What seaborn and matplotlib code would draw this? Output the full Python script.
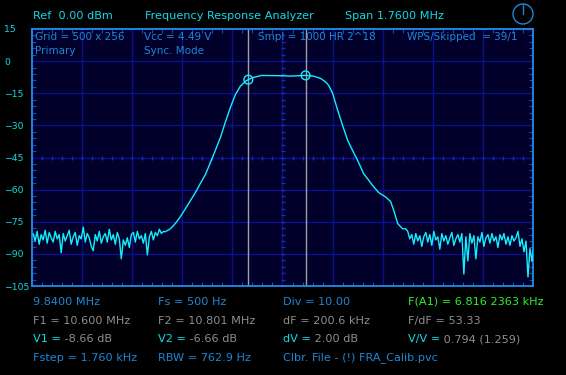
import numpy as np
import pandas as pd
import seaborn as sns
import matplotlib.pyplot as plt
from matplotlib.patches import Ellipse
from matplotlib.ticker import MultipleLocator, FixedLocator

# sweep setup
f_start = 9.84
f_span = 1.76
f1, v1 = 10.600, -8.66
f2, v2 = 10.801, -6.66
y_ticks = [-105, -90, -75, -60, -45, -30, -15, 0, 15]

# filter response (MHz, dB)
shape_freq = [10.308, 10.326, 10.343, 10.361, 10.379, 10.396, 10.414, 10.431, 10.449,
              10.467, 10.484, 10.502, 10.519, 10.537, 10.555, 10.572, 10.590, 10.600,
              10.614, 10.628, 10.646, 10.709, 10.748, 10.801, 10.829, 10.854, 10.871,
              10.882, 10.896, 10.914, 10.931, 10.949, 10.966, 10.984, 11.005, 11.037,
              11.058, 11.083, 11.100, 11.111, 11.125, 11.142, 11.153]
shape_level = [-79.7, -78.3, -75.9, -72.7, -68.9, -65.2, -61.4, -57.2, -53.0,
               -47.3, -41.7, -35.6, -28.6, -21.6, -15.5, -11.7, -9.4, -8.66,
               -7.7, -7.3, -6.7, -6.8, -7.0, -6.66, -7.0, -8.1, -9.7,
               -11.3, -15.0, -23.0, -30.0, -37.0, -41.7, -46.4, -52.5, -58.1,
               -61.4, -63.5, -65.6, -69.8, -75.9, -78.3, -78.3]

# noise floor below / above the passband (one value every sweep step pair)
noise_step = 0.00704
left_start = 9.844
left_noise = [-80.5, -84.0, -79.5, -85.5, -81.0, -83.5, -79.0, -85.0, -80.0, -82.5,
              -84.5, -79.5, -83.0, -81.0, -89.5, -80.5, -84.0, -81.5, -79.0, -85.5,
              -82.0, -80.0, -86.0, -81.5, -83.0, -77.5, -84.5, -80.5, -82.5, -86.5,
              -88.5, -81.0, -84.0, -79.5, -85.0, -82.0, -80.5, -84.5, -78.5, -83.5,
              -81.0, -85.5, -80.0, -83.0, -92.3, -83.5, -86.0, -82.5, -87.0, -81.0,
              -80.0, -84.5, -79.5, -83.0, -81.5, -85.0, -80.5, -90.5, -82.0, -79.5,
              -83.5, -80.0, -81.5, -78.5, -80.5, -79.5]
right_start = 11.160
right_noise = [-79.5, -83.0, -81.0, -85.5, -80.5, -84.0, -81.5, -86.5, -82.0, -80.0,
               -84.5, -81.0, -86.0, -79.5, -83.5, -82.0, -87.8, -80.5, -84.0, -81.5,
               -85.5, -82.5, -80.0, -86.0, -83.0, -81.0, -84.5, -80.5, -99.4, -82.0,
               -93.3, -80.5, -85.0, -81.5, -92.3, -82.0, -84.5, -80.0, -86.5, -82.5,
               -81.0, -85.0, -80.5, -84.0, -82.0, -87.0, -81.0, -83.5, -80.5, -85.5,
               -82.0, -86.0, -81.5, -84.0, -82.5, -79.5, -86.5, -83.0, -89.0, -84.0,
               -100.8, -87.5, -93.5, -85.0]

left_freq = left_start + noise_step * np.arange(len(left_noise))
right_freq = right_start + noise_step * np.arange(len(right_noise))
trace = pd.DataFrame({
    'freq': np.concatenate([left_freq, shape_freq, right_freq]),
    'level': np.concatenate([left_noise, shape_level, right_noise]),
})

# colours
BG = '#00002a'
GRID = '#0c1090'
BORDER = '#1d8ee6'
TRACE = '#12f0ff'
CYAN = '#10dbe6'
BLUE = '#1f86d6'
GREY = '#8e8e8e'
GREEN = '#2ef02e'

sns.set_style('dark')
plt.rcParams['font.family'] = ['DejaVu Sans']

W, H = 566, 375
fig = plt.figure(figsize=(W / 100, H / 100), dpi=100, facecolor='black')
ax = fig.add_axes([32 / W, 1 - 286 / H, 501 / W, 257 / H])
ax.set_facecolor(BG)

f_end = f_start + f_span
ax.set_xlim(f_start, f_end)
ax.set_ylim(-105, 15)

# grid
ax.set_xticks(np.linspace(f_start, f_end, 11))
ax.set_yticks(y_ticks)
ax.grid(True, which='major', color=GRID, lw=1)
ax.xaxis.set_minor_locator(FixedLocator(np.linspace(f_start, f_end, 51)))
ax.yaxis.set_minor_locator(MultipleLocator(3))
ax.tick_params(which='major', length=0, labelbottom=False, labelleft=True,
               labelcolor=CYAN, labelsize=6.7, pad=20)
for lbl in ax.get_yticklabels():
    lbl.set_ha('left')
ax.tick_params(which='minor', direction='in', length=3, width=0.8, color='#1450b0',
               top=True, right=True, bottom=True, left=True)
for s in ax.spines.values():
    s.set_visible(True)
    s.set_color(BORDER)
    s.set_linewidth(1.3)

# centre cross ticks
fc = f_start + f_span / 2
ax.plot(np.full(41, fc), np.arange(-105, 15.1, 3), ls='none', marker='_', ms=3,
        mew=1, color='#1a2ab0', zorder=1)
ax.plot(np.linspace(f_start, f_end, 51), np.full(51, -45), ls='none', marker='|', ms=3,
        mew=1, color='#1a2ab0', zorder=1)

# marker lines
ax.axvline(f1, color='#a0a0a0', lw=1, zorder=2)
ax.axvline(f2, color='#a0a0a0', lw=1, zorder=2)

sns.lineplot(data=trace, x='freq', y='level', ax=ax, color=TRACE, lw=1.0,
             estimator=None, sort=False, zorder=3)
sns.scatterplot(x=[f1, f2], y=[v1, v2], ax=ax, s=40, facecolor='none',
                edgecolor=TRACE, linewidth=1.0, zorder=4)
ax.set_xlabel('')
ax.set_ylabel('')


def px(x, y):
    return x / W, 1 - y / H


# header
fs = 8.1
for x, s in [(33, 'Ref  0.00 dBm'), (145, 'Frequency Response Analyzer'), (345, 'Span 1.7600 MHz')]:
    fig.text(*px(x, 16), s, color=CYAN, fontsize=fs, va='center', ha='left')

# clock icon
cx, cy = px(523, 14)
fig.add_artist(Ellipse((cx, cy), 20 / W, 20 / H, fill=False, ec=BLUE, lw=1))
fig.add_artist(plt.Line2D([cx, cx], [cy, 1 - 4 / H], color=BLUE, lw=1))

# info inside the grid
info = [(35, 37.5, 'Grid = 500 x 256'), (35, 51, 'Primary'),
        (144, 37.5, 'Vcc = 4.49 V'), (144, 51, 'Sync. Mode'),
        (258, 37.5, 'Smpl = 1000 HR 2^18'), (407, 37.5, 'WPS/Skipped  = 39/1')]
for x, y, s in info:
    fig.text(*px(x, y), s, color=BLUE, fontsize=7.5, va='center', ha='left')

# readout below the grid
cols = [33, 158, 283, 408]
rows = [302, 321, 339, 358]
row1 = [('9.8400 MHz', BLUE), ('Fs = 500 Hz', BLUE), ('Div = 10.00', BLUE),
        ('F(A1) = 6.816 2363 kHz', GREEN)]
row2 = ['F1 = 10.600 MHz', 'F2 = 10.801 MHz', 'dF = 200.6 kHz', 'F/dF = 53.33']
row3 = [('V1 =', '-8.66 dB'), ('V2 =', '-6.66 dB'), ('dV =', '2.00 dB'),
        ('V/V =', '0.794 (1.259)')]
row4 = ['Fstep = 1.760 kHz', 'RBW = 762.9 Hz', 'Clbr. File - (!) FRA_Calib.pvc']

for x, (s, c) in zip(cols, row1):
    fig.text(*px(x, rows[0]), s, color=c, fontsize=fs, va='center', ha='left')
for x, s in zip(cols, row2):
    fig.text(*px(x, rows[1]), s, color=GREY, fontsize=fs, va='center', ha='left')
for x, (lab, val) in zip(cols, row3):
    t = fig.text(*px(x, rows[2]), lab, color=CYAN, fontsize=fs, va='center', ha='left')
    ax.annotate(' ' + val, xy=(1, 0), xycoords=t, va='bottom', ha='left',
                color=GREY, fontsize=fs, annotation_clip=False)
for x, s in zip(cols, row4):
    fig.text(*px(x, rows[3]), s, color=BLUE, fontsize=fs, va='center', ha='left')

fig.savefig('out.png', dpi=100, facecolor='black')
